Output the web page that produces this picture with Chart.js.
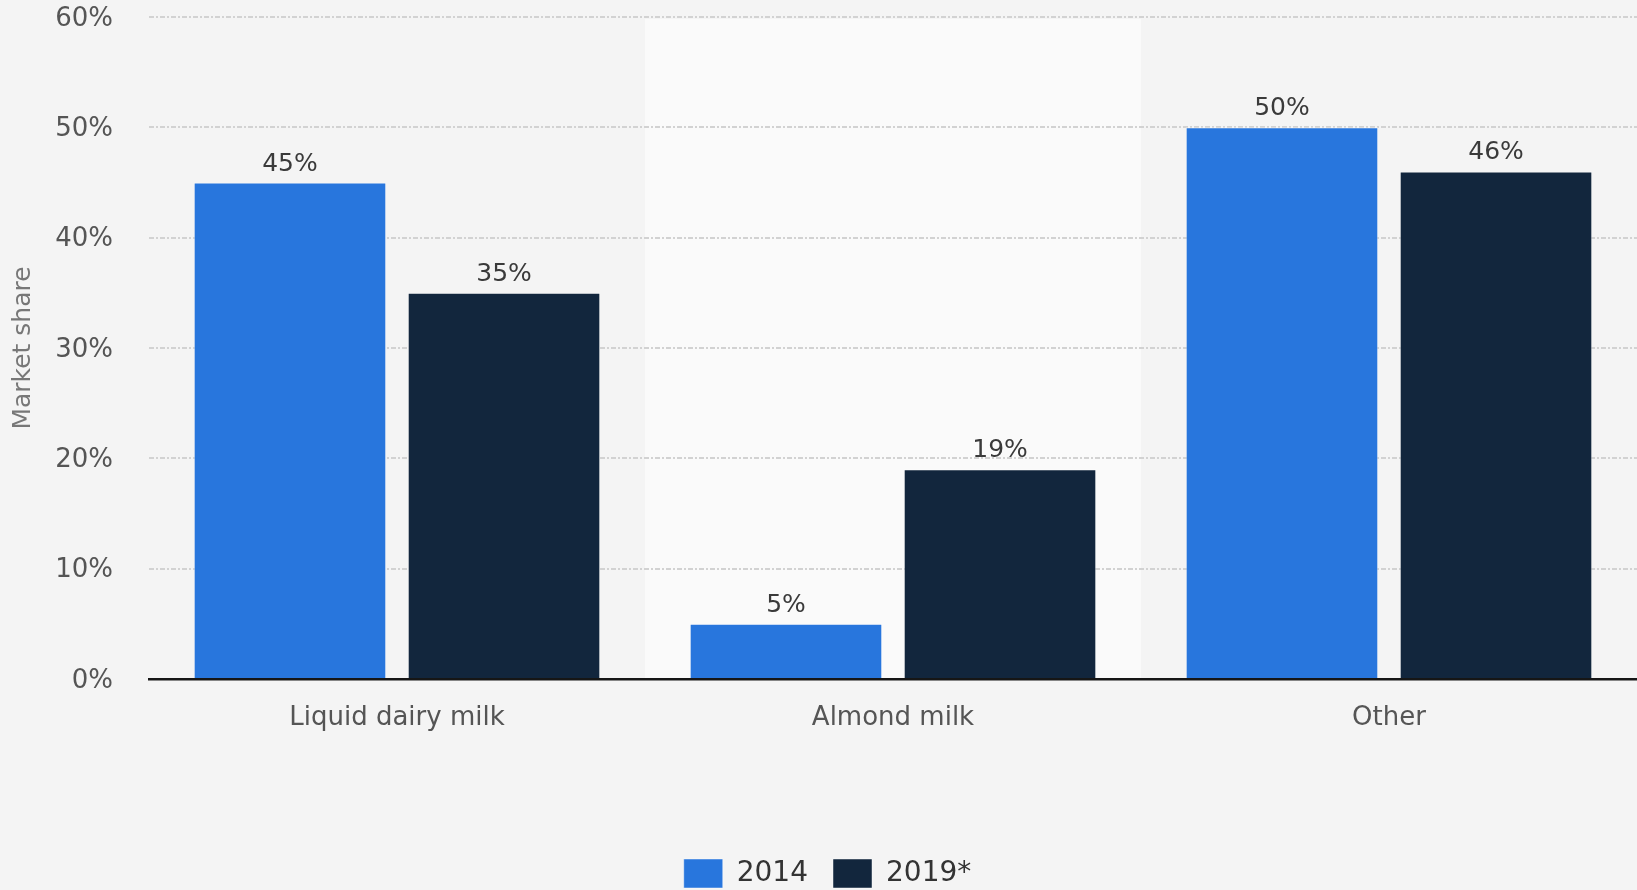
<!DOCTYPE html>
<html><head><meta charset="utf-8">
<script src="https://cdn.jsdelivr.net/npm/chart.js@4.4.0/dist/chart.umd.min.js"></script>
<style>
html,body{margin:0;padding:0;background:#f4f4f4;overflow:hidden;}
#wrap{width:1637px;height:898px;position:relative;}
</style></head>
<body><div id="wrap"><canvas id="c"></canvas></div>
<script>
const categories = ['Liquid dairy milk', 'Almond milk', 'Other'];
const seriesLabels = ['2014', '2019*'];
const values2014 = [45, 5, 50];
const values2019 = [35, 19, 46];
const seriesColors = ['#2876dd', '#12263d'];
const yMin = 0, yMax = 60, yStep = 10;

const FONT = "'DejaVu Sans', sans-serif";

const bgPlugin = {
  id: 'bg',
  afterLayout(chart) {
    const lg = chart.legend;
    if (lg) { lg.left += 9; lg.right += 9; }
  },
  beforeDraw(chart) {
    const {ctx, chartArea, scales} = chart;
    ctx.save();
    ctx.fillStyle = '#f4f4f4';
    ctx.fillRect(0, 0, chart.width, chart.height);
    const x = scales.x;
    const w = (chartArea.right - chartArea.left) / categories.length;
    for (let i = 1; i < categories.length; i += 2) {
      const cx = x.getPixelForValue(i);
      ctx.fillStyle = '#fafafa';
      ctx.fillRect(cx - w / 2, chartArea.top + 2, w, chartArea.bottom - chartArea.top - 2);
    }
    ctx.restore();
  }
};

const labelPlugin = {
  id: 'vals',
  afterDatasetsDraw(chart) {
    const {ctx} = chart;
    ctx.save();
    ctx.font = "25px " + FONT;
    ctx.fillStyle = '#3a3a3a';
    ctx.textAlign = 'center';
    ctx.textBaseline = 'alphabetic';
    chart.data.datasets.forEach((ds, di) => {
      const meta = chart.getDatasetMeta(di);
      meta.data.forEach((bar, i) => {
        ctx.fillText(ds.data[i] + '%', bar.x, bar.y - 12);
      });
    });
    ctx.restore();
  }
};

new Chart(document.getElementById('c'), {
  type: 'bar',
  data: {
    labels: categories,
    datasets: [
      {label: seriesLabels[0], data: values2014, backgroundColor: seriesColors[0], borderColor: 'rgba(255,255,255,0.45)', borderWidth: 1},
      {label: seriesLabels[1], data: values2019, backgroundColor: seriesColors[1], borderColor: 'rgba(255,255,255,0.45)', borderWidth: 1}
    ]
  },
  options: {
    responsive: true,
    maintainAspectRatio: false,
    animation: false,
    datasets: {bar: {categoryPercentage: 0.863, barPercentage: 0.9}},
    layout: {padding: {top: 17, right: 0, left: 0, bottom: 0}},
    plugins: {
      tooltip: {enabled: false},
      legend: {
        position: 'bottom',
        align: 'center',
        labels: {boxWidth: 39, boxHeight: 29, padding: 25, color: '#333', font: {family: FONT, size: 28}}
      }
    },
    scales: {
      x: {
        grid: {display: false, drawTicks: false},
        border: {display: true, color: '#161616', width: 2.5},
        ticks: {color: '#555', padding: 24, font: {family: FONT, size: 26}},
        afterFit(s) { s.height = 155; }
      },
      y: {
        min: yMin, max: yMax,
        grid: {color: '#d2d2d2', lineWidth: 2, drawTicks: false},
        border: {display: false, dash: [5, 2, 2, 2]},
        ticks: {stepSize: yStep, color: '#555', padding: 36, labelOffset: 2, font: {family: FONT, size: 26}, callback: v => v + '%'},
        title: {display: true, text: 'Market share', color: '#777', font: {family: FONT, size: 25}, padding: {top: 8, bottom: 10}},
        afterFit(s) { s.width = 149; s.paddingTop = 0; s.paddingBottom = 0; }
      }
    }
  },
  plugins: [bgPlugin, labelPlugin]
});
</script>
</body></html>
